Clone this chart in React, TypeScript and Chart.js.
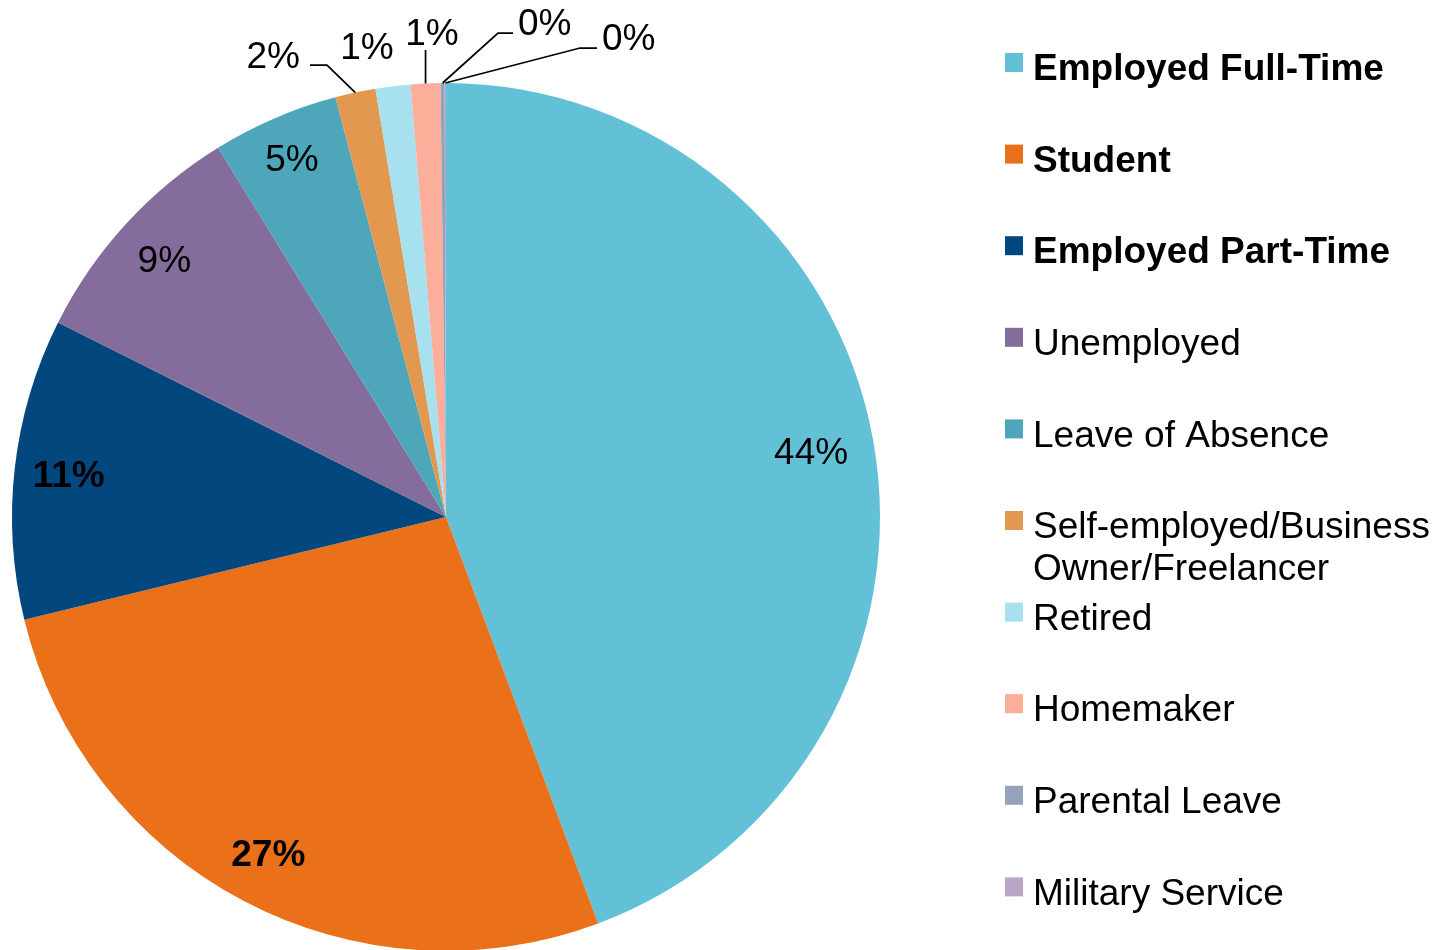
import React, { useEffect, useRef } from 'react';
import { Chart, registerables } from 'chart.js';

Chart.register(...registerables);

// ---- data ----
const categories = [
  'Employed Full-Time',
  'Student',
  'Employed Part-Time',
  'Unemployed',
  'Leave of Absence',
  'Self-employed/Business Owner/Freelancer',
  'Retired',
  'Homemaker',
  'Parental Leave',
  'Military Service',
];
const shares = [44.3, 26.9, 11.2, 8.8, 4.7, 1.5, 1.3, 1.1, 0.15, 0.05];
const percentLabels = ['44%', '27%', '11%', '9%', '5%', '2%', '1%', '1%', '0%', '0%'];

// ---- style ----
const colors = [
  '#63C1D7',
  '#EA7019',
  '#03477F',
  '#846D9C',
  '#4EA6BB',
  '#E2994F',
  '#A7E0EF',
  '#FBAE99',
  '#95A2BB',
  '#B9A6C6',
];
const boldLegend = [true, true, true, false, false, false, false, false, false, false];
const boldValueLabel = [false, true, true, false, false, false, false, false, false, false];

const FONT_FAMILY = '"Liberation Sans", Arial, sans-serif';
const FONT_SIZE = 37;
const CAP = 0.716 * FONT_SIZE;

// inside label radial position (fraction of radius)
const insideRadius = [0.855, 0.875, 0.875, 0.88, 0.9];

// outside label placements (px relative to pie centre; ty = cap centre)
type Outside = { align: CanvasTextAlign; tx: number; ty: number; leader: number[][] | null; vertical?: boolean };
const outsidePlacement: Record<number, Outside> = {
  5: { align: 'right', tx: -146, ty: -462, leader: [[-119, -452], [-136, -452]] },
  6: { align: 'center', tx: -79, ty: -471, leader: null },
  7: { align: 'center', tx: -14, ty: -485, leader: [], vertical: true },
  8: { align: 'left', tx: 72, ty: -495, leader: [[52, -484], [67, -484]] },
  9: { align: 'left', tx: 156, ty: -480, leader: [[134, -469], [151, -469]] },
};

const labelPlugin = {
  id: 'customLabels',
  afterDraw(chart: any) {
    const ctx: CanvasRenderingContext2D = chart.ctx;
    const meta = chart.getDatasetMeta(0);
    ctx.save();
    ctx.fillStyle = '#000';
    ctx.strokeStyle = '#000';
    ctx.lineWidth = 1.75;
    meta.data.forEach((arc: any, i: number) => {
      const p = arc.getProps(['x', 'y', 'startAngle', 'endAngle', 'outerRadius'], true);
      const mid = (p.startAngle + p.endAngle) / 2;
      const cx = p.x;
      const cy = p.y;
      const r = p.outerRadius;
      ctx.font = `${boldValueLabel[i] ? 'bold ' : ''}${FONT_SIZE}px ${FONT_FAMILY}`;
      ctx.textBaseline = 'alphabetic';
      const op = outsidePlacement[i];
      if (!op) {
        const lr = r * (insideRadius[i] ?? 0.87);
        const x = cx + Math.cos(mid) * lr;
        const y = cy + Math.sin(mid) * lr;
        ctx.textAlign = 'center';
        ctx.fillText(percentLabels[i], x, y + CAP / 2);
      } else {
        const ax = cx + Math.cos(mid) * r;
        const ay = cy + Math.sin(mid) * r;
        if (op.leader) {
          ctx.beginPath();
          ctx.moveTo(ax, ay);
          if (op.vertical) {
            ctx.lineTo(ax, cy - 467);
          } else {
            op.leader.forEach(([dx, dy]) => ctx.lineTo(cx + dx, cy + dy));
          }
          ctx.stroke();
        }
        ctx.textAlign = op.align;
        ctx.fillText(percentLabels[i], cx + op.tx, cy + op.ty + CAP / 2);
      }
    });

    // legend
    const lx = 1005;
    const tx = 1033;
    const maxW = 1441 - tx;
    const y0 = 67;
    const step = 91.6;
    categories.forEach((name, i) => {
      const yc = y0 + step * i;
      ctx.fillStyle = colors[i];
      ctx.fillRect(lx, yc - 14, 18, 19);
      ctx.fillStyle = '#000';
      ctx.font = `${boldLegend[i] ? 'bold ' : ''}${FONT_SIZE}px ${FONT_FAMILY}`;
      ctx.textAlign = 'left';
      const words = name.split(' ');
      const lines: string[] = [];
      let cur = '';
      words.forEach((w) => {
        const t = cur ? cur + ' ' + w : w;
        if (cur && ctx.measureText(t).width > maxW) {
          lines.push(cur);
          cur = w;
        } else cur = t;
      });
      lines.push(cur);
      lines.forEach((ln, k) => {
        ctx.fillText(ln, tx, yc + CAP / 2 + k * 42);
      });
    });
    ctx.restore();
  },
};

export default function App() {
  const ref = useRef<HTMLCanvasElement | null>(null);
  useEffect(() => {
    if (!ref.current) return;
    const chart = new Chart(ref.current, {
      type: 'pie',
      data: {
        labels: categories,
        datasets: [
          {
            data: shares,
            backgroundColor: colors,
            borderWidth: 0,
            hoverOffset: 0,
            offset: 0,
          },
        ],
      },
      options: {
        responsive: false,
        animation: false,
        devicePixelRatio: 1,
        events: [],
        layout: { padding: { left: 12, top: 83, right: 561, bottom: 49 } },
        plugins: { legend: { display: false }, tooltip: { enabled: false } },
      },
      plugins: [labelPlugin],
    } as any);
    return () => chart.destroy();
  }, []);
  return (
    <div
      style={{
        position: 'fixed',
        left: 0,
        top: 0,
        width: 1441,
        height: 950,
        overflow: 'hidden',
        background: '#fff',
      }}
    >
      <canvas ref={ref} width={1441} height={1000} style={{ display: 'block' }} />
    </div>
  );
}
